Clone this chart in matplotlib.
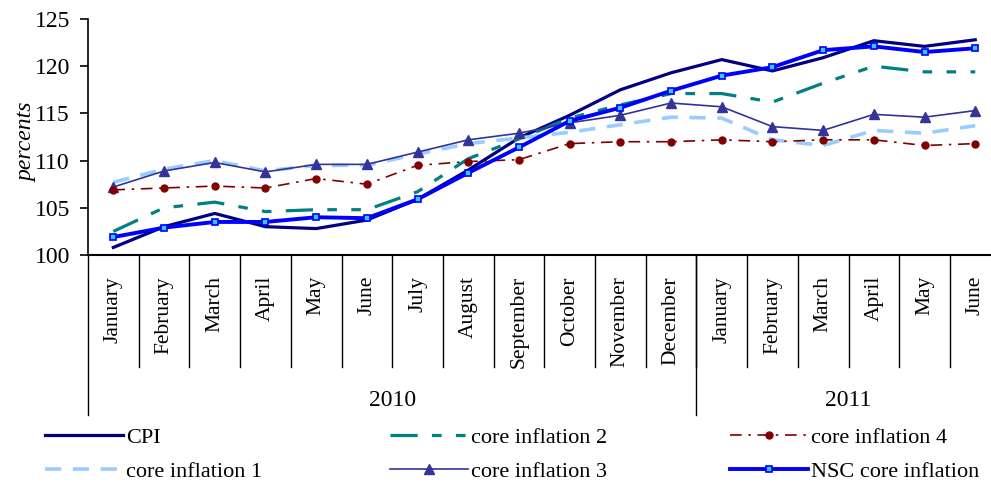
import matplotlib
matplotlib.use('Agg')
import matplotlib.pyplot as plt
from matplotlib.lines import Line2D

plt.rcParams['font.family'] = ['Liberation Serif', 'DejaVu Serif']

months = ['January', 'February', 'March', 'April', 'May', 'June', 'July',
          'August', 'September', 'October', 'November', 'December',
          'January', 'February', 'March', 'April', 'May', 'June']
years = ['2010', '2011']
year_len = [12, 6]

cpi = [100.8, 103.0, 104.4, 103.0, 102.8, 103.7, 105.9, 109.0, 112.4, 114.8,
       117.5, 119.3, 120.7, 119.5, 120.9, 122.7, 122.1, 122.8]
core1 = [107.7, 109.1, 110.0, 108.9, 109.5, 109.5, 110.7, 111.8, 112.4, 113.0,
         113.8, 114.6, 114.5, 112.2, 111.6, 113.2, 112.9, 113.7]
core2 = [102.5, 105.0, 105.6, 104.6, 104.8, 104.8, 106.7, 110.2, 112.3, 114.5,
         115.9, 117.1, 117.1, 116.2, 118.2, 120.0, 119.4, 119.4]
core3 = [107.2, 108.9, 109.8, 108.8, 109.6, 109.6, 110.9, 112.2, 112.9, 114.0,
         114.8, 116.1, 115.7, 113.6, 113.2, 114.9, 114.6, 115.3]
core4 = [106.9, 107.1, 107.3, 107.1, 108.1, 107.5, 109.5, 109.9, 110.1, 111.8,
         112.0, 112.0, 112.2, 112.0, 112.2, 112.2, 111.6, 111.8]
nsc = [101.9, 102.9, 103.5, 103.5, 104.0, 103.9, 105.9, 108.7, 111.4, 114.2,
       115.6, 117.4, 119.0, 119.9, 121.7, 122.1, 121.5, 121.9]

W, H = 991, 484
fig = plt.figure(figsize=(W / 100, H / 100), dpi=100)
# plot area is cut off at the right edge in the original
ax = fig.add_axes([88 / W, (H - 255) / H, 18 * 50.7 / W, 236 / H])

x = list(range(len(months)))
l_cpi, = ax.plot(x, cpi, color='#000080', lw=2.3, label='CPI')
l_c1, = ax.plot(x, core1, color='#99CCFF', lw=2.6, dashes=(4.5, 3.2),
                label='core inflation 1')
l_c2, = ax.plot(x, core2, color='#008080', lw=2.3,
                dashes=(8.5, 4.5, 3, 4.5, 3, 4.5), label='core inflation 2')
l_c3, = ax.plot(x, core3, color='#333399', lw=1.2, marker='^', ms=7,
                label='core inflation 3')
l_c4, = ax.plot(x, core4, color='#800000', lw=1.2, marker='o', ms=5,
                dashes=(7, 4, 1.5, 4), label='core inflation 4')
l_nsc, = ax.plot(x, nsc, color='#0000FF', lw=2.8, marker='s', ms=5,
                 mfc='#33CCFF', mec='#0000FF', mew=1.2, label='NSC core inflation')

ax.set_xlim(-0.5, len(months) - 0.5)
ax.set_ylim(100, 125)
ax.set_yticks([100, 105, 110, 115, 120, 125])
ax.tick_params(axis='y', direction='out', length=6, width=1.2, pad=7,
               labelsize=17)
ax.set_xticks([])
for s in ['top', 'right']:
    ax.spines[s].set_visible(False)
ax.spines['left'].set_linewidth(1.2)
ax.spines['bottom'].set_linewidth(1.5)

# month labels and separators below the axis
tr = ax.get_xaxis_transform()
for i, m in enumerate(months):
    ax.text(i, -21 / 236, m, transform=tr, rotation=90, ha='center', va='top',
            fontsize=15.5)
bounds = [0]
for n in year_len:
    bounds.append(bounds[-1] + n)
for b in range(1, len(months)):
    ax.add_line(Line2D([b - 0.5, b - 0.5], [0, -112 / 236], transform=tr,
                       color='black', lw=1, clip_on=False))
for b in bounds[:-1]:
    ax.add_line(Line2D([b - 0.5, b - 0.5], [0, -160 / 236], transform=tr,
                       color='black', lw=1, clip_on=False))
for k, y in enumerate(years):
    c = (bounds[k] + bounds[k + 1]) / 2 - 0.5
    ax.text(c, -146 / 236, y, transform=tr, ha='center', va='center', fontsize=17)

fig.text(27 / W, 1 - 142 / H, 'percents', rotation=90, style='italic',
         ha='center', va='center', fontsize=17)

cols = [([l_cpi, l_c1], 45), ([l_c2, l_c3], 390), ([l_c4, l_nsc], 730)]
for handles, xl in cols:
    lg = fig.legend(handles=handles, loc='upper left',
                    bbox_to_anchor=(xl / W, 1 - 427 / H), frameon=False,
                    fontsize=16, handlelength=3.5, handletextpad=0.15,
                    labelspacing=0.62, borderpad=0, borderaxespad=0)

fig.savefig('out.png', dpi=100)
